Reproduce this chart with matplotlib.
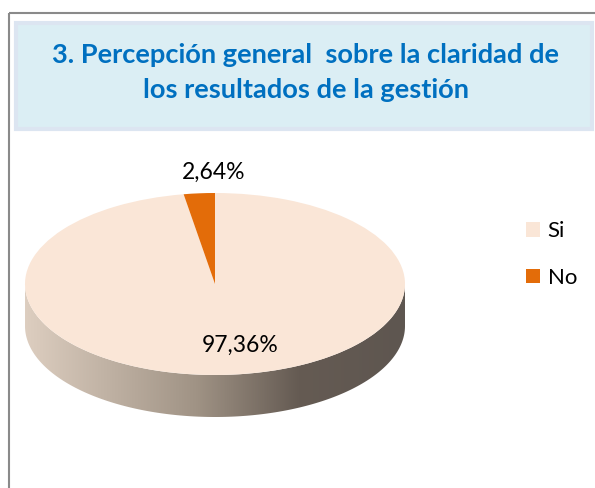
import numpy as np
import matplotlib.pyplot as plt
from matplotlib.patches import Rectangle, Polygon
from matplotlib.colors import LinearSegmentedColormap

categorias = ["Si", "No"]
porcentajes = [97.36, 2.64]
colores = ["#FAE6D7", "#E36C09"]
titulo = ["3. Percepción general  sobre la claridad de", "los resultados de la gestión"]

plt.rcParams['font.family'] = ['Lato', 'DejaVu Sans']

W, H = 595, 488
fig = plt.figure(figsize=(W / 100, H / 100), dpi=100)

# fondo en pixeles
bg = fig.add_axes([0, 0, 1, 1])
bg.set_xlim(0, W)
bg.set_ylim(H, 0)
bg.axis('off')
bg.add_patch(Rectangle((9, 13), 620, 520, fill=False, ec='#8a8a8a', lw=1.5))
bg.add_patch(Rectangle((16, 23), 576, 106, fc='#DBEEF4', ec='#DCE5F1', lw=3))
bg.text(306, 63, titulo[0], ha='center', va='baseline', fontsize=19.6,
        fontweight='bold', color='#0070C0')
bg.text(306, 98, titulo[1], ha='center', va='baseline', fontsize=19.6,
        fontweight='bold', color='#0070C0')

# pastel "3D"
izq, der, arriba, abajo = 25, 405, 193, 417
b = 91.0
d = 42 / b
ax = fig.add_axes([izq / W, 1 - abajo / H, (der - izq) / W, (abajo - arriba) / H])
wedges, _ = ax.pie(porcentajes, colors=colores, startangle=90, counterclock=False,
                   wedgeprops=dict(linewidth=0, zorder=3))
ax.set_aspect('auto')
ax.axis('off')

t = np.linspace(np.pi, 2 * np.pi, 200)
borde = np.column_stack([np.cos(t), np.sin(t)])
base = np.column_stack([np.cos(t[::-1]), np.sin(t[::-1]) - d])
lado = Polygon(np.vstack([borde, base]), closed=True, fc='none', ec='none')
ax.add_patch(lado)
cmap = LinearSegmentedColormap.from_list(
    'lado', [(0, '#DDCEC0'), (0.45, '#A09385'), (0.72, '#655B53'), (1, '#5E5650')])
grad = np.linspace(0, 1, 256).reshape(1, -1)
im = ax.imshow(grad, cmap=cmap, extent=(-1, 1, -1 - d, 0.1), aspect='auto', zorder=1)
im.set_clip_path(lado)
ax.set_xlim(-1, 1)
ax.set_ylim(-1 - d, 1)

# etiquetas
etiquetas = [f"{v:.2f}".replace(".", ",") + "%" for v in porcentajes]
fig.text(240 / W, 1 - 345 / H, etiquetas[0], ha='center', va='center', fontsize=16.5, color='black')
fig.text(214 / W, 1 - 172 / H, etiquetas[1], ha='center', va='center', fontsize=16.5, color='black')

fig.legend(wedges, categorias, loc='center left', bbox_to_anchor=(526 / W, 1 - 254.5 / H),
           frameon=False, fontsize=16, handlelength=0.62, handleheight=0.62,
           handletextpad=0.35, labelspacing=1.2, borderpad=0, borderaxespad=0)

plt.savefig("out.png", dpi=100)
